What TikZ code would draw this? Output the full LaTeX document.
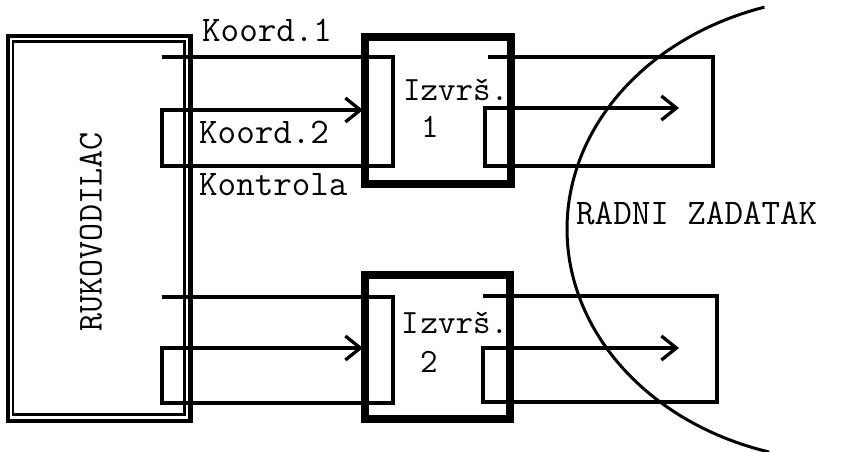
\documentclass[tikz,border=0pt]{standalone}
\usepackage{fontspec}
\usetikzlibrary{arrows.meta}
\begin{document}
\begin{tikzpicture}[x=1pt,y=-1pt,
  lbl/.style={font=\fontsize{36}{36}\selectfont\ttfamily, inner sep=0pt, anchor=base west},
  ilbl/.style={font=\fontsize{34}{34}\selectfont\ttfamily, inner sep=0pt, anchor=base west},
  sig/.style={line width=3.3pt, line join=miter},
  arr/.style={sig, -{Straight Barb[length=15pt,width=24pt]}},
  execbox/.style={draw, line width=7.5pt, inner sep=0pt},
  outerbox/.style={draw, line width=4.2pt, inner sep=0pt},
  innerbox/.style={draw, line width=2.8pt, inner sep=0pt},
]
\useasboundingbox (0,0) rectangle (844,452);
% manager box (double)
\node[outerbox, minimum width=182.5pt, minimum height=385pt] (ruk) at (99.25,228.5) {};
\node[innerbox, minimum width=171.5pt, minimum height=373pt] (rukin) at (98.75,228) {};
\node[font=\fontsize{35}{35}\selectfont\ttfamily, inner sep=0pt, rotate=90] (rukl) at (91,232) {RUKOVODILAC};
% executor boxes
\node[execbox, minimum width=146pt, minimum height=147pt] (ex1) at (438,110.5) {};
\node[execbox, minimum width=145pt, minimum height=144pt] (ex2) at (437.5,347) {};
% group 1 left
\coordinate (l1a) at (162,57);
\coordinate (l1b) at (393,57);
\coordinate (l1c) at (393,166);
\coordinate (l1d) at (162,166);
\coordinate (l1e) at (162,110);
\coordinate (l1f) at (363,110);
\draw[arr] (l1a) -- (l1b) -- (l1c) -- (l1d) -- (l1e) -- (l1f);
% group 1 right
\coordinate (r1a) at (488,57);
\coordinate (r1b) at (713,57);
\coordinate (r1c) at (713,166);
\coordinate (r1d) at (485,166);
\coordinate (r1e) at (485,108);
\coordinate (r1f) at (679,108);
\draw[arr] (r1a) -- (r1b) -- (r1c) -- (r1d) -- (r1e) -- (r1f);
% group 2 left
\coordinate (l2a) at (162,297);
\coordinate (l2b) at (393,297);
\coordinate (l2c) at (393,403);
\coordinate (l2d) at (162,403);
\coordinate (l2e) at (162,348);
\coordinate (l2f) at (363,348);
\draw[arr] (l2a) -- (l2b) -- (l2c) -- (l2d) -- (l2e) -- (l2f);
% group 2 right
\coordinate (r2a) at (483,296);
\coordinate (r2b) at (717,296);
\coordinate (r2c) at (717,402);
\coordinate (r2d) at (483,402);
\coordinate (r2e) at (483,348);
\coordinate (r2f) at (679,348);
\draw[arr] (r2a) -- (r2b) -- (r2c) -- (r2d) -- (r2e) -- (r2f);
% work task arc
\draw[line width=3pt] plot[domain=106:253, samples=80, smooth] ({846+279*cos(\x)},{229+232*sin(\x)});
% labels
\node[lbl] (k1) at (202,42) {Koord.1};
\node[lbl] (k2) at (199,143) {Koord.2};
\node[lbl] (ko) at (199,195) {Kontrola};
\node[ilbl] (i1) at (403,100) {Izvrš.};
\node[ilbl, anchor=base] (n1) at (430,137) {1};
\node[ilbl] (i2) at (401,333) {I\kern2pt zvrš.};
\node[ilbl, anchor=base] (n2) at (429,372) {2};
\node[lbl] (rz) at (576,224) {RADNI ZADATAK};
\end{tikzpicture}
\end{document}
